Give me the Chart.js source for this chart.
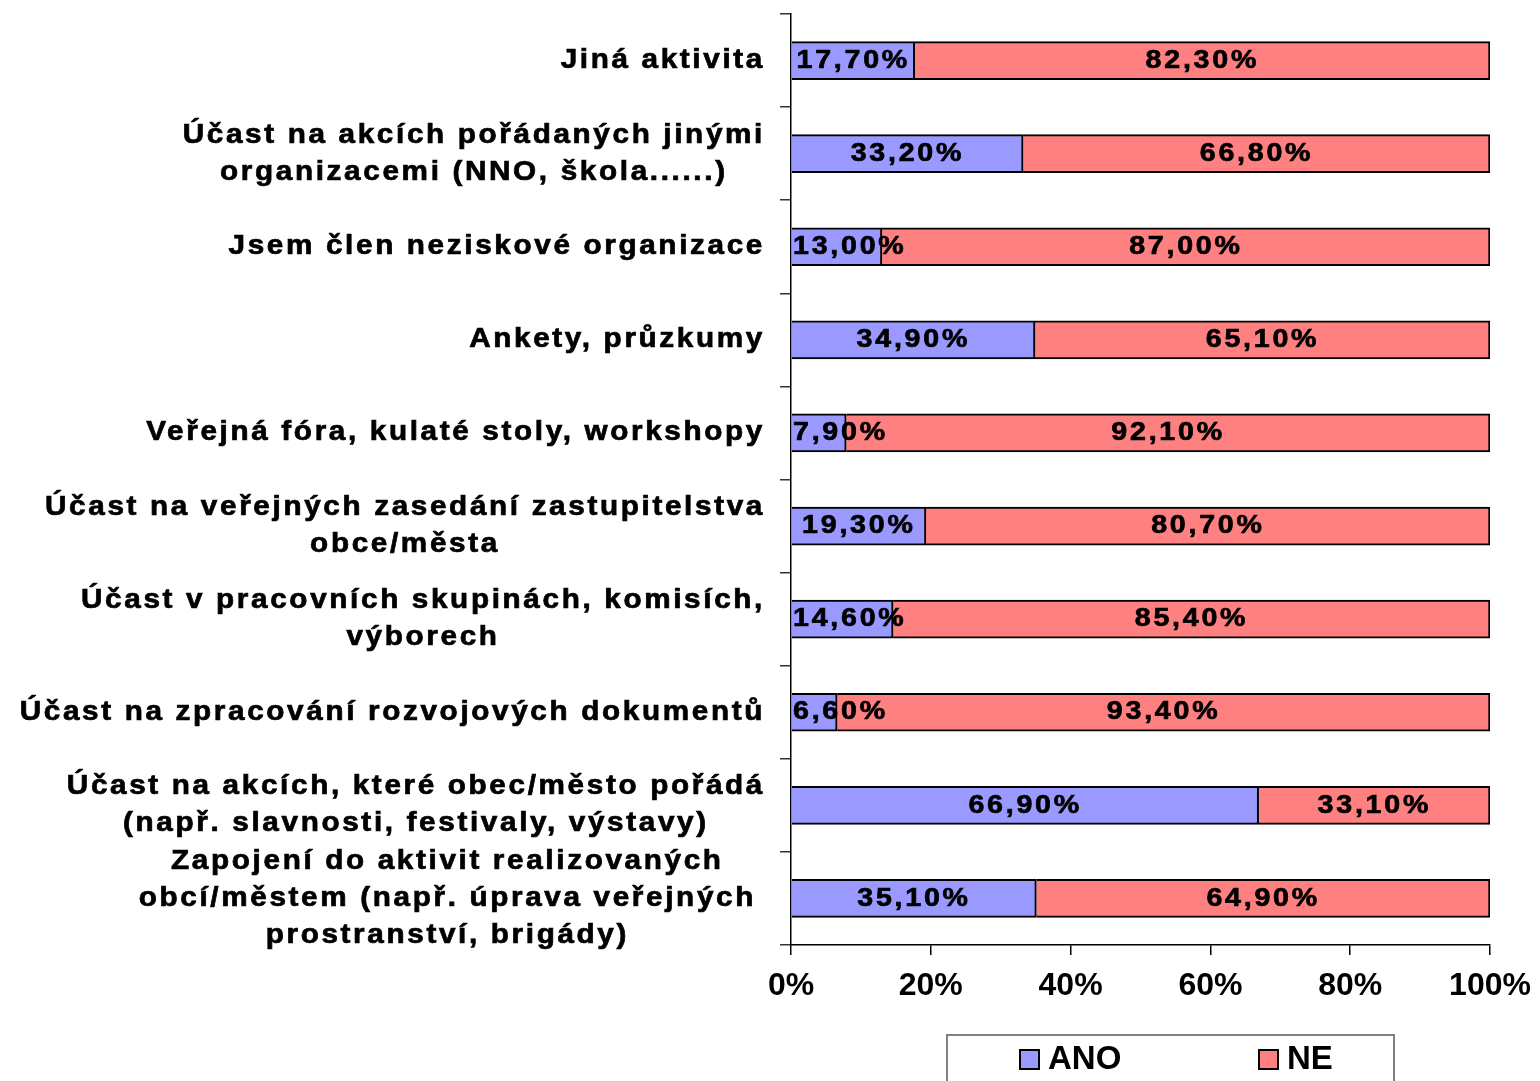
<!DOCTYPE html>
<html>
<head>
<meta charset="utf-8">
<script src="https://cdn.jsdelivr.net/npm/chart.js@4.4.1/dist/chart.umd.min.js"></script>
<style>
  html, body { margin: 0; padding: 0; background: #fff; }
  canvas { display: block; }
</style>
</head>
<body>
<canvas id="chart" width="1540" height="1081"></canvas>
<script>
const categories = [
    ['Jiná aktivita'],
    ['Účast na akcích pořádaných jinými', 'organizacemi (NNO, škola......)'],
    ['Jsem člen neziskové organizace'],
    ['Ankety, průzkumy'],
    ['Veřejná fóra, kulaté stoly, workshopy'],
    ['Účast na veřejných zasedání zastupitelstva', 'obce/města'],
    ['Účast v pracovních skupinách, komisích,', 'výborech'],
    ['Účast na zpracování rozvojových dokumentů'],
    ['Účast na akcích, které obec/město pořádá', '(např. slavnosti, festivaly, výstavy)'],
    ['Zapojení do aktivit realizovaných', 'obcí/městem (např. úprava veřejných', 'prostranství, brigády)']
];
const anoValues = [17.7, 33.2, 13.0, 34.9, 7.9, 19.3, 14.6, 6.6, 66.9, 35.1];
const neValues = [82.3, 66.8, 87.0, 65.1, 92.1, 80.7, 85.4, 93.4, 33.1, 64.9];
const tickLabels = ['0%', '20%', '40%', '60%', '80%', '100%'];
const seriesNames = ['ANO', 'NE'];
const seriesColors = ['#9999ff', '#ff8080'];

const family = "'Liberation Sans', Arial, sans-serif";
const stretch = 1.1;

// wide, slightly heavier text like the old office export
function wideText(ctx, txt, cx, cy) {
    ctx.save();
    ctx.translate(cx, cy);
    ctx.scale(stretch, 1);
    ctx.fillText(txt, 0, 0);
    ctx.strokeText(txt, 0, 0);
    ctx.restore();
}

function setWideFont(ctx, size, spacing) {
    ctx.font = 'bold ' + size + 'px ' + family;
    ctx.letterSpacing = spacing + 'px';
    ctx.fillStyle = '#000';
    ctx.strokeStyle = '#000';
    ctx.lineWidth = 0.7;
    ctx.textAlign = 'center';
    ctx.textBaseline = 'middle';
}

// category labels: block right-aligned, lines centered inside the block
const categoryLabels = {
    id: 'categoryLabels',
    afterDraw(chart) {
        const ctx = chart.ctx;
        const y = chart.scales.y;
        ctx.save();
        setWideFont(ctx, 27, 2.4);
        const right = 765;
        const lineH = 37;
        categories.forEach((lines, i) => {
            const cy = y.getPixelForValue(i);
            const w = Math.max(...lines.map(l => ctx.measureText(l).width)) * stretch;
            const cx = (lines.length > 2 ? right - 9 : right) - w / 2;
            lines.forEach((l, k) => {
                wideText(ctx, l, cx, cy + (k - (lines.length - 1) / 2) * lineH);
            });
        });
        ctx.restore();
    }
};

const valueLabels = {
    id: 'valueLabels',
    afterDatasetsDraw(chart) {
        const ctx = chart.ctx;
        const left = chart.chartArea.left;
        ctx.save();
        setWideFont(ctx, 26, 2.5);
        chart.data.datasets.forEach((ds, di) => {
            chart.getDatasetMeta(di).data.forEach((bar, i) => {
                const txt = ds.data[i].toFixed(2).replace('.', ',') + '%';
                const w = ctx.measureText(txt).width * stretch;
                let cx = (bar.x + bar.base) / 2;
                if (cx - w / 2 < left + 2) cx = left + 2 + w / 2;
                wideText(ctx, txt, cx, bar.y);
            });
        });
        ctx.restore();
    }
};

const boxLegend = {
    id: 'boxLegend',
    afterDraw(chart) {
        const ctx = chart.ctx;
        ctx.save();
        ctx.strokeStyle = '#808080';
        ctx.lineWidth = 2;
        ctx.strokeRect(947, 1035, 447, 60);
        ctx.font = 'bold 33px ' + family;
        ctx.textBaseline = 'middle';
        ctx.textAlign = 'left';
        const xs = [1020, 1259];
        chart.data.datasets.forEach((ds, i) => {
            ctx.fillStyle = ds.backgroundColor;
            ctx.fillRect(xs[i], 1050, 19, 19);
            ctx.strokeStyle = '#000';
            ctx.lineWidth = 2;
            ctx.strokeRect(xs[i], 1050, 19, 19);
            ctx.fillStyle = '#000';
            ctx.fillText(ds.label, xs[i] + 28, 1060);
        });
        ctx.restore();
    }
};

new Chart(document.getElementById('chart'), {
    type: 'bar',
    data: {
        labels: categories,
        datasets: [
            { label: seriesNames[0], data: anoValues, backgroundColor: seriesColors[0] },
            { label: seriesNames[1], data: neValues, backgroundColor: seriesColors[1] }
        ]
    },
    options: {
        indexAxis: 'y',
        responsive: false,
        animation: false,
        layout: { padding: { left: 0, right: 50, top: 14, bottom: 0 } },
        datasets: {
            bar: { borderColor: '#000', borderWidth: 2, barThickness: 38 }
        },
        scales: {
            x: {
                stacked: true,
                min: 0,
                max: 100,
                ticks: {
                    stepSize: 20,
                    color: '#000',
                    padding: 12,
                    font: { family: family, size: 32, weight: 'bold' },
                    callback: (v, i) => tickLabels[i]
                },
                grid: { drawOnChartArea: false, color: '#000', tickLength: 10, lineWidth: 1.5 },
                border: { color: '#000', width: 1.5 },
                afterFit(scale) {
                    scale.height = 136;
                    scale.paddingLeft = 0;
                    scale.paddingRight = 0;
                }
            },
            y: {
                stacked: true,
                ticks: { display: false },
                grid: { drawOnChartArea: false, offset: true, color: '#333', tickLength: 11, lineWidth: 1.5 },
                border: { color: '#000', width: 1.5 },
                afterFit(scale) { scale.width = 791; }
            }
        },
        plugins: {
            legend: { display: false },
            tooltip: { enabled: false }
        }
    },
    plugins: [categoryLabels, valueLabels, boxLegend]
});
</script>
</body>
</html>
